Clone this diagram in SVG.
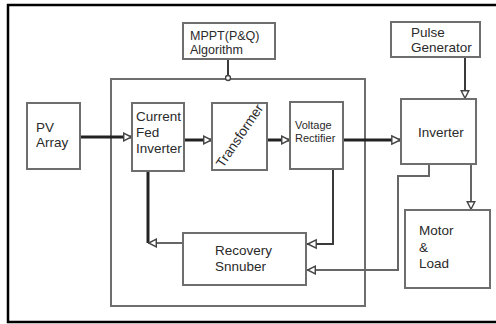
<svg xmlns="http://www.w3.org/2000/svg" width="496" height="324" viewBox="0 0 496 324">
<style>
.box{fill:#fff;stroke:#6e6e6e;stroke-width:2}
.t{font-family:"Liberation Sans",Arial,sans-serif;font-size:13.5px;fill:#2a2a2a}
.tm{font-size:12.5px}
.ts{font-family:"Liberation Sans",Arial,sans-serif;font-size:11px;fill:#2a2a2a}
.c{fill:none;stroke:#3a3a3a;stroke-width:2}
.ck{fill:none;stroke:#222;stroke-width:3}
.cg{fill:none;stroke:#666;stroke-width:2}
</style>
<defs>
<marker id="aS" viewBox="0 0 10 10" refX="10" refY="5" markerUnits="userSpaceOnUse" markerWidth="9" markerHeight="10" orient="auto">
<path d="M0.8,0.8 L9.2,5 L0.8,9.2 Z" fill="#fff" stroke="#444" stroke-width="1.6"/>
</marker>
<marker id="aL" viewBox="0 0 10 10" refX="10" refY="5" markerUnits="userSpaceOnUse" markerWidth="10" markerHeight="16" orient="auto">
<path d="M0.8,0.8 L9.2,5 L0.8,9.2 Z" fill="#fff" stroke="#444" stroke-width="1.4"/>
</marker>
<marker id="dot" viewBox="0 0 10 10" refX="5" refY="5" markerUnits="userSpaceOnUse" markerWidth="7" markerHeight="7" orient="auto">
<circle cx="5" cy="5" r="3.6" fill="#fff" stroke="#444" stroke-width="2"/>
</marker>
</defs>
<rect x="0" y="0" width="496" height="324" fill="#fff"/>
<path d="M500,5 H8 V322 H500" fill="none" stroke="#000" stroke-width="2.5"/>

<g id="container"><rect class="box" x="111" y="79" width="254" height="227" fill="none"/></g>

<g id="connectors">
<path class="ck" d="M80,137 H132" marker-end="url(#aS)"/>
<path class="ck" d="M184,140 H212" marker-end="url(#aS)"/>
<path class="ck" d="M267,140 H290" marker-end="url(#aS)"/>
<path class="ck" d="M343,140 H401" marker-end="url(#aL)"/>
<path class="c" d="M228,59 V78" marker-end="url(#dot)"/>
<path class="c" d="M465,57 V99" marker-end="url(#aS)"/>
<path class="cg" d="M471,164 V210" marker-end="url(#aS)"/>
<path class="cg" d="M429,164 V176 H398 V270 H307" marker-end="url(#aS)"/>
<path class="c" d="M333,169 V244 H307" marker-end="url(#aL)"/>
<path class="ck" d="M148,171 V243"/>
<path class="cg" d="M183,243 H148" marker-end="url(#aS)"/>
</g>

<g id="mppt"><rect class="box" x="183" y="23" width="92" height="36"/>
<text class="t tm" x="190" y="40">MPPT(P&amp;Q)</text><text class="t tm" x="190" y="54">Algorithm</text></g>

<g id="pulse"><rect class="box" x="391" y="22" width="89" height="35"/>
<text class="t" x="411" y="37">Pulse</text><text class="t" x="411" y="52">Generator</text></g>

<g id="pv"><rect class="box" x="27" y="103" width="53" height="66"/>
<text class="t" x="36" y="132">PV</text><text class="t" x="36" y="147">Array</text></g>

<g id="cfi"><rect class="box" x="132" y="103" width="52" height="68"/>
<text class="t" x="136" y="121">Current</text><text class="t" x="136" y="137">Fed</text><text class="t" x="136" y="153">Inverter</text></g>

<g id="transformer"><rect class="box" x="212" y="103" width="55" height="67"/>
<text class="t" x="240" y="140" font-size="12.5" text-anchor="middle" transform="rotate(-56 240 136)">Transformer</text></g>

<g id="vrect"><rect class="box" x="290" y="102" width="53" height="67"/>
<text class="ts" x="295" y="129">Voltage</text><text class="ts" x="295" y="142">Rectifier</text></g>

<g id="inverter"><rect class="box" x="401" y="99" width="75" height="65"/>
<text class="t" x="418" y="137">Inverter</text></g>

<g id="motor"><rect class="box" x="405" y="210" width="85" height="78"/>
<text class="t" x="419" y="235">Motor</text><text class="t" x="419" y="252">&amp;</text><text class="t" x="419" y="268">Load</text></g>

<g id="recovery"><rect class="box" x="183" y="233" width="123" height="52"/>
<text class="t" x="215" y="255">Recovery</text><text class="t" x="215" y="271">Snnuber</text></g>
</svg>
